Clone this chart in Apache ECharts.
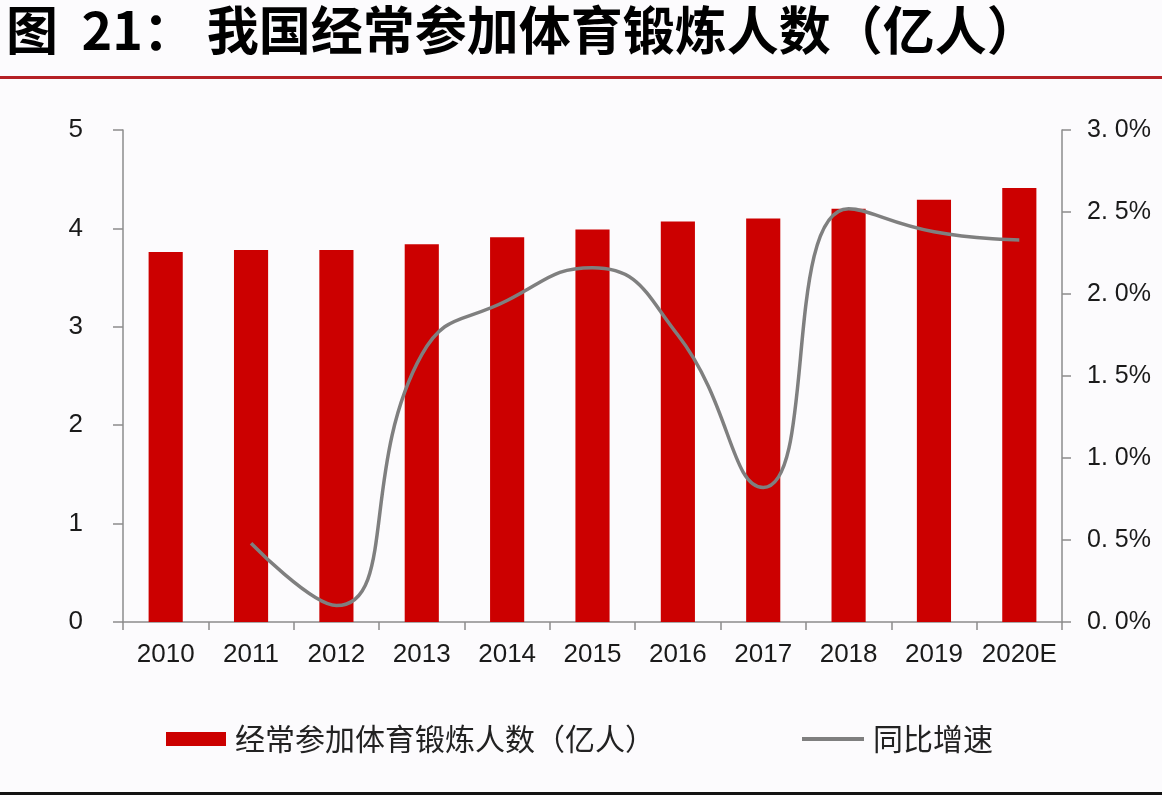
<!DOCTYPE html>
<html>
<head>
<meta charset="utf-8">
<script src="https://cdn.jsdelivr.net/npm/echarts@6/dist/echarts.min.js"></script>
<style>
  html, body { margin: 0; padding: 0; background: #fcfbfd; }
  #main { width: 1162px; height: 800px; }
</style>
</head>
<body>
<div id="main"></div>
<script>
// 年份
var years = ['2010', '2011', '2012', '2013', '2014', '2015', '2016', '2017', '2018', '2019', '2020E'];
// 经常参加体育锻炼人数（亿人）
var people = [3.76, 3.78, 3.78, 3.84, 3.91, 3.99, 4.07, 4.10, 4.20, 4.29, 4.41];
// 同比增速（%）
var growth = [null, 0.48, 0.10, 1.63, 1.96, 2.16, 1.75, 0.82, 2.52, 2.38, 2.33];

var barName = '经常参加体育锻炼人数（亿人）';
var lineName = '同比增速';
var axisColor = '#8c8c8c';
var labelFont = 'Liberation Sans, Arial, sans-serif';

var chart = echarts.init(document.getElementById('main'));
var option = {
  backgroundColor: '#fcfbfd',
  animation: false,
  title: {
    text: '图  21： 我国经常参加体育锻炼人数（亿人）',
    left: 6,
    top: 4,
    padding: 0,
    textStyle: {
      fontFamily: 'Noto Sans CJK SC',
      fontWeight: 'bold',
      fontSize: 52,
      color: '#000'
    }
  },
  graphic: [
    // 标题下红线
    { type: 'rect', shape: { x: 0, y: 76, width: 1162, height: 3 }, style: { fill: '#b52025' } },
    // 底部黑线
    { type: 'rect', shape: { x: 0, y: 792, width: 1162, height: 3 }, style: { fill: '#111' } }
  ],
  legend: [{
    data: [{ name: barName, icon: 'rect' }],
    left: 166,
    top: 724,
    padding: 0,
    itemWidth: 60,
    itemHeight: 14,
    itemGap: 8,
    textStyle: { fontFamily: 'Noto Sans CJK SC', fontSize: 30, color: '#222', padding: [0, 0, 0, 4] }
  }, {
    data: [{ name: lineName, icon: 'rect' }],
    left: 802,
    top: 724,
    padding: 0,
    itemWidth: 62,
    itemHeight: 4,
    textStyle: { fontFamily: 'Noto Sans CJK SC', fontSize: 30, color: '#222', padding: [0, 0, 0, 4] }
  }],
  grid: {
    left: 123,
    right: 100,
    top: 130,
    bottom: 178
  },
  xAxis: {
    type: 'category',
    data: years,
    axisLine: { lineStyle: { color: axisColor, width: 1.5 } },
    axisTick: { show: true, length: 8, lineStyle: { color: axisColor, width: 1.5 } },
    axisLabel: { interval: 0, fontFamily: labelFont, fontSize: 26, color: '#1a1a1a', margin: 20 }
  },
  yAxis: [{
    type: 'value',
    min: 0,
    max: 5,
    interval: 1,
    position: 'left',
    axisLine: { show: true, lineStyle: { color: axisColor, width: 1.5 } },
    axisTick: { show: true, length: 10, lineStyle: { color: axisColor, width: 1.5 } },
    splitLine: { show: false },
    axisLabel: { fontFamily: labelFont, fontSize: 26, color: '#1a1a1a', margin: 40 }
  }, {
    type: 'value',
    min: 0,
    max: 3,
    interval: 0.5,
    position: 'right',
    axisLine: { show: true, lineStyle: { color: axisColor, width: 1.5 } },
    axisTick: { show: true, length: 9, lineStyle: { color: axisColor, width: 1.5 } },
    splitLine: { show: false },
    axisLabel: {
      fontFamily: labelFont,
      fontSize: 25,
      color: '#1a1a1a',
      margin: 25,
      formatter: function (v) {
        return v.toFixed(1).replace('.', '. ') + '%';
      }
    }
  }],
  series: [{
    name: barName,
    type: 'bar',
    data: people,
    barWidth: '40%',
    itemStyle: { color: '#cc0000' }
  }, {
    name: lineName,
    type: 'line',
    yAxisIndex: 1,
    data: growth,
    smooth: 0.5,
    symbol: 'none',
    lineStyle: { color: '#7f7f7f', width: 3.5 },
    itemStyle: { color: '#7f7f7f' }
  }]
};
chart.setOption(option);
</script>
</body>
</html>
